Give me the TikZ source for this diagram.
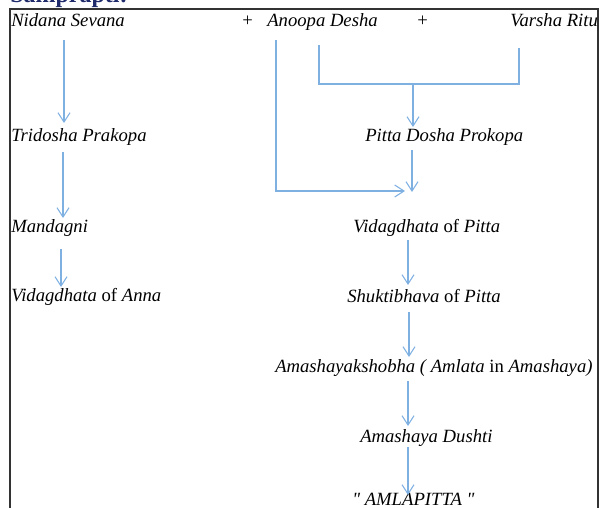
\documentclass[tikz,border=0pt]{standalone}
\usepackage{fontspec}
\setmainfont{Liberation Serif}[Ligatures=TeXOff]
\usetikzlibrary{arrows.meta,calc}
\definecolor{arrblue}{HTML}{7EB0E2}
\definecolor{titleblue}{HTML}{1F2A6B}
\begin{document}
\begin{tikzpicture}[x=0.75pt,y=-0.75pt,
  lbl/.style={anchor=base west,inner sep=0pt,font=\fontsize{14}{16}\selectfont\itshape},
  arr/.style={draw=arrblue,line width=0.8pt,-{Straight Barb[length=7pt,width=9pt]}},
  ln/.style={draw=arrblue,line width=0.8pt}]
\useasboundingbox (0,0) rectangle (610,507);
\clip (0,0) rectangle (610,507);
\node[anchor=base west,inner sep=0pt,text=titleblue,font=\fontsize{18}{20}\selectfont\bfseries] (title) at (10,2) {Samprapti:};
\draw[draw=black!80,line width=1.1pt] (10,520) -- (10,9) -- (598,9) -- (598,520);
% left column
\node[lbl] (ns) at (11,26) {Nidana Sevana};
\node[lbl] (tp) at (11,141) {Tridosha Prakopa};
\node[lbl] (md) at (11,232) {Mandagni};
\node[lbl] (va) at (11,301) {Vidagdhata \upshape of \itshape Anna};
% top row
\node[lbl,font=\fontsize{14}{16}\selectfont] (p1) at (242,26) {+};
\node[lbl] (ad) at (267,26) {Anoopa Desha};
\node[lbl,font=\fontsize{14}{16}\selectfont] (p2) at (417,26) {+};
\begin{scope}
\clip (0,0) rectangle (597,507);
\node[lbl] (vr) at (510,26) {Varsha Ritu};
\end{scope}
% right column
\node[lbl] (pd) at (365,141) {Pitta Dosha Prokopa};
\node[lbl] (vp) at (353,232) {Vidagdhata \upshape of \itshape Pitta};
\node[lbl] (sp) at (347,302) {Shuktibhava \upshape of \itshape Pitta};
\node[lbl] (am) at (275,372) {Amashayakshobha ( Amlata \upshape in \itshape Amashaya)};
\node[lbl] (ds) at (360,442) {Amashaya Dushti};
\node[lbl] (ap) at (352,505) {" AMLAPITTA "};
% left arrows
\draw[arr] ($(ns.base west)+(53,14)$) -- ($(tp.base west)+(53,-18)$);
\draw[arr] ($(tp.base west)+(52,11)$) -- ($(md.base west)+(52,-14)$);
\draw[arr] ($(md.base west)+(50,17)$) -- ($(va.base west)+(50,-14)$);
% junctions
\coordinate (m1) at ($(pd.base west)+(47,50)$);
\coordinate (jl) at ($(ad.base west)+(52,58)$);
\coordinate (jr) at ($(vr.base west)+(9,58)$);
\draw[arr] ($(ad.base west)+(9,14)$) |- ($(m1)+(-7,0)$);
\draw[ln] ($(ad.base west)+(52,19)$) -- (jl) -- (jr) -- ($(vr.base west)+(9,22)$);
\draw[arr] ($(pd.base west)+(48,-57)$) -- ($(pd.base west)+(48,-14)$);
% right arrows
\draw[arr] ($(pd.base west)+(47,9)$) -- ($(vp.base west)+(59,-40)$);
\draw[arr] ($(vp.base west)+(55,8)$) -- ($(sp.base west)+(61,-17)$);
\draw[arr] ($(sp.base west)+(62,10)$) -- ($(am.base west)+(134,-15)$);
\draw[arr] ($(am.base west)+(133,9)$) -- ($(ds.base west)+(48,-16)$);
\draw[arr] ($(ds.base west)+(48,5)$) -- ($(ap.base west)+(56,-10)$);
\end{tikzpicture}
\end{document}
